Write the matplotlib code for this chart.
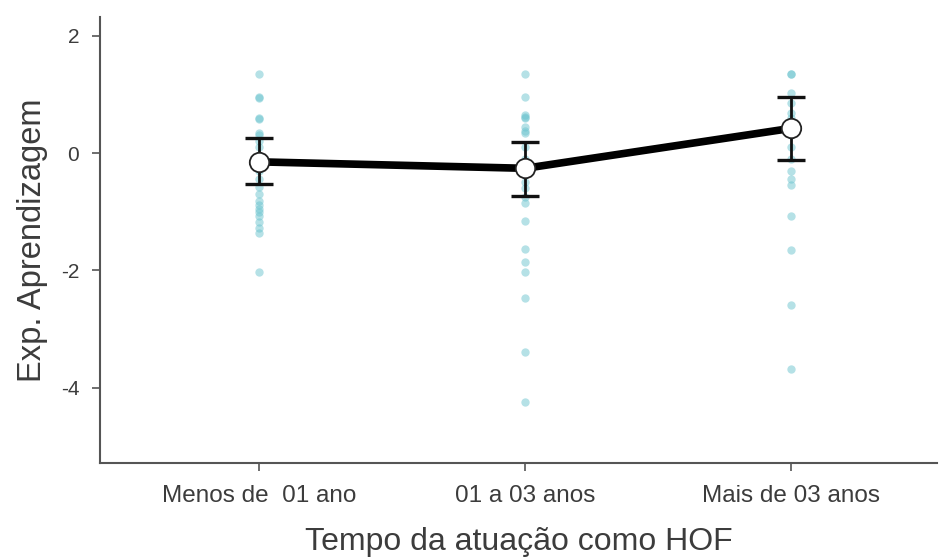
import matplotlib.pyplot as plt
import numpy as np

plt.rcParams["font.family"] = ["Liberation Sans", "DejaVu Sans"]
plt.rcParams["axes.unicode_minus"] = False

categories = ["Menos de  01 ano", "01 a 03 anos", "Mais de 03 anos"]

group_1 = [1.35, 0.95, 0.94, 0.6, 0.58, 0.34, 0.3, 0.2, 0.1, -0.1, -0.3, -0.45,
           -0.58, -0.7, -0.82, -0.88, -0.95, -1.0, -1.08, -1.18, -1.27, -1.36, -2.02]
group_2 = [1.34, 0.96, 0.65, 0.62, 0.59, 0.45, 0.38, 0.34, 0.1, -0.1, -0.5, -0.6,
           -0.75, -0.85, -1.15, -1.64, -1.85, -2.02, -2.47, -3.38, -4.24]
group_3 = [1.35, 1.35, 1.02, 0.85, 0.68, 0.6, 0.3, 0.1, -0.1, -0.3, -0.45, -0.55,
           -1.07, -1.65, -2.59, -3.67]

means = [-0.15, -0.26, 0.42]
ci_upper = [0.25, 0.19, 0.95]
ci_lower = [-0.53, -0.73, -0.12]

text_color = "#3c3c3c"


def main():
    fig = plt.figure(figsize=(9.39, 5.60), dpi=100)
    ax = fig.add_axes([0.1065, 0.173, 0.8915, 0.797])

    x = np.arange(len(categories))
    for i, grp in enumerate([group_1, group_2, group_3]):
        ax.scatter(np.full(len(grp), x[i]), grp, s=36, color="#6cc4cf",
                   alpha=0.5, linewidths=0, zorder=1)

    m = np.array(means)
    yerr = [m - np.array(ci_lower), np.array(ci_upper) - m]
    ax.errorbar(x, m, yerr=yerr, fmt="none", ecolor="#111111", elinewidth=2,
                capsize=10, capthick=2.4, zorder=2)
    ax.plot(x, m, color="black", linewidth=5.5, solid_capstyle="round", zorder=3)
    ax.plot(x, m, linestyle="none", marker="o", markersize=14,
            markerfacecolor="white", markeredgecolor="#222222",
            markeredgewidth=1.3, zorder=4)

    ax.set_xlim(-0.6, 2.55)
    ax.set_ylim(-5.28, 2.32)
    ax.set_yticks([2, 0, -2, -4])
    ax.set_xticks(x)
    ax.set_xticklabels(categories)
    ax.tick_params(axis="x", labelsize=17.5, labelcolor=text_color, pad=10)
    ax.tick_params(axis="y", labelsize=15, labelcolor=text_color, pad=9)

    for side in ["top", "right"]:
        ax.spines[side].set_visible(False)
    for side in ["left", "bottom"]:
        ax.spines[side].set_color("#555555")
        ax.spines[side].set_linewidth(1.5)
    ax.tick_params(axis="both", length=6, width=1.2, color="#555555")

    ax.set_ylabel("Exp. Aprendizagem", fontsize=23.5, color=text_color, labelpad=9)
    ax.set_xlabel("Tempo da atuação como HOF", fontsize=23, color=text_color,
                  labelpad=14)

    fig.savefig("out.png", dpi=100)


if __name__ == "__main__":
    main()
